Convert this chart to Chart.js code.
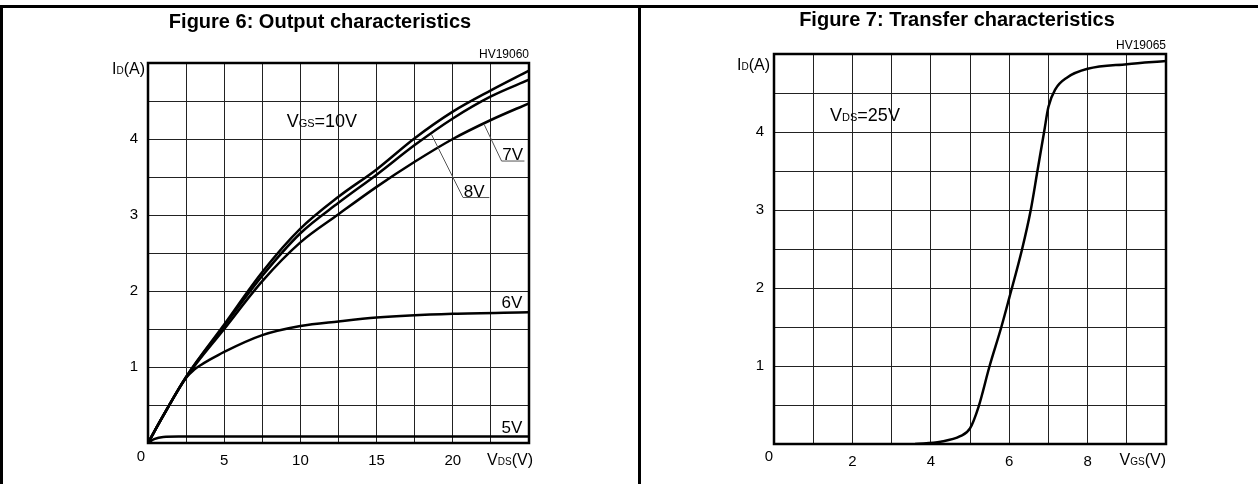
<!DOCTYPE html>
<html>
<head>
<meta charset="utf-8">
<script src="https://cdn.jsdelivr.net/npm/chart.js@4"></script>
<style>
body { margin: 0; background: #fff; width: 1258px; height: 484px; overflow: hidden; position: relative; }
canvas { position: absolute; top: 0; }
#outChart { left: 0; }
#trChart { left: 640px; }
.rule { position: absolute; background: #000; }
</style>
</head>
<body>
<div class="rule" style="left:0;top:5px;width:1258px;height:3px"></div>
<div class="rule" style="left:0;top:5px;width:3px;height:479px"></div>
<div class="rule" style="left:638px;top:5px;width:3px;height:479px"></div>
<canvas id="outChart" width="640" height="484" style="width:640px;height:484px"></canvas>
<canvas id="trChart" width="618" height="484" style="width:618px;height:484px"></canvas>
<script>
// Figure 6 - output characteristics (VDS in V, ID in A)
const vdsOut = [0, 1, 2.5, 5, 7.5, 10, 12.5, 15, 17.5, 20, 22.5, 25]
const id10V = [0, 0.36, 0.87, 1.56, 2.25, 2.82, 3.24, 3.60, 4.01, 4.36, 4.64, 4.90]
const id8V = [0, 0.36, 0.87, 1.54, 2.20, 2.76, 3.16, 3.53, 3.92, 4.27, 4.56, 4.78]
const id7V = [0, 0.36, 0.86, 1.50, 2.13, 2.64, 3.01, 3.37, 3.70, 4.00, 4.25, 4.47]
const vds6V = [0, 1, 2.5, 3, 3.5, 4, 5, 7.5, 10, 12.5, 15, 20, 25]
const id6V = [0, 0.36, 0.86, 0.96, 1.03, 1.09, 1.20, 1.42, 1.54, 1.60, 1.65, 1.70, 1.72]
const vds5V = [0, 0.4, 1, 2, 25]
const id5V = [0, 0.05, 0.08, 0.085, 0.085]

// Figure 7 - transfer characteristics (VGS in V, ID in A)
const vgsTr = [3.6, 4.25, 4.75, 5.0, 5.22, 5.5, 5.8, 6.0, 6.33, 6.55, 6.72, 6.89, 7.0, 7.18, 7.48, 8.0, 9.0, 10.0]
const idTr = [0, 0.03, 0.1, 0.2, 0.48, 1.0, 1.5, 1.87, 2.5, 3.0, 3.5, 4.0, 4.32, 4.55, 4.70, 4.81, 4.87, 4.91]

// tick labels that are printed
const outXTicks = [5, 10, 15, 20]
const trXTicks = [2, 4, 6, 8]
const yTicks = [1, 2, 3, 4]

const FONT = '"Liberation Sans", Arial, sans-serif'

function pts(xs, ys) {
    return xs.map((x, i) => ({ x: x, y: ys[i] }))
}

function curve(xs, ys) {
    return {
        data: pts(xs, ys),
        borderColor: '#000',
        borderWidth: 2.5,
        pointRadius: 0,
        fill: false,
        cubicInterpolationMode: 'monotone'
    }
}

// text made of [string, size] pieces on one baseline
function label(ctx, x, y, parts, align) {
    let w = 0
    parts.forEach(p => { ctx.font = p[1] + 'px ' + FONT; w += ctx.measureText(p[0]).width })
    let cx = align === 'right' ? x - w : (align === 'center' ? x - w / 2 : x)
    ctx.textAlign = 'left'
    ctx.textBaseline = 'alphabetic'
    ctx.fillStyle = '#000'
    parts.forEach(p => {
        ctx.font = p[1] + 'px ' + FONT
        ctx.fillText(p[0], cx, y)
        cx += ctx.measureText(p[0]).width
    })
}

function line(ctx, x1, y1, x2, y2, w, c) {
    ctx.beginPath()
    ctx.lineWidth = w
    ctx.strokeStyle = c
    ctx.moveTo(x1, y1)
    ctx.lineTo(x2, y2)
    ctx.stroke()
}

function scales(xMax, xStep, xLabels, yW, xH) {
    return {
        x: {
            type: 'linear', min: 0, max: xMax,
            afterFit: s => { s.height = xH },
            grid: { color: '#222', lineWidth: 1, drawTicks: false, tickLength: 0 },
            border: { display: false },
            ticks: {
                stepSize: xStep, autoSkip: false, maxRotation: 0, padding: 9, color: '#000',
                font: { family: FONT, size: 15 },
                callback: v => xLabels.includes(v) ? String(v) : ''
            }
        },
        y: {
            type: 'linear', min: 0, max: 5,
            afterFit: s => { s.width = yW },
            grid: { color: '#222', lineWidth: 1, drawTicks: false, tickLength: 0 },
            border: { display: false },
            ticks: {
                stepSize: 0.5, autoSkip: false, padding: 10, color: '#000',
                font: { family: FONT, size: 15 },
                callback: v => yTicks.includes(v) ? String(v) : ''
            }
        }
    }
}

const outNotes = {
    id: 'outNotes',
    afterDraw(chart) {
        const ctx = chart.ctx, a = chart.chartArea
        const x = chart.scales.x, y = chart.scales.y
        ctx.save()
        ctx.lineWidth = 2.5
        ctx.strokeStyle = '#000'
        ctx.strokeRect(a.left, a.top, a.right - a.left, a.bottom - a.top)

        ctx.font = 'bold 20px ' + FONT
        ctx.textAlign = 'center'
        ctx.textBaseline = 'middle'
        ctx.fillStyle = '#000'
        ctx.fillText('Figure 6: Output characteristics', 320, 22)

        label(ctx, a.right, a.top - 5, [['HV19060', 12]], 'right')
        label(ctx, a.left - 3, a.top + 11, [['I', 16], ['D', 10], ['(A)', 16]], 'right')
        label(ctx, x.getPixelForValue(0) - 7, y.getPixelForValue(0) + 18, [['0', 15]], 'center')
        label(ctx, a.right + 4, a.bottom + 22, [['V', 16], ['DS', 10], ['(V)', 16]], 'right')

        label(ctx, x.getPixelForValue(9.1), y.getPixelForValue(4.25) + 7, [['V', 18], ['GS', 11], ['=10V', 18]])

        // 7V with leader to its curve
        label(ctx, x.getPixelForValue(23.25), y.getPixelForValue(3.71) - 1, [['7V', 17]])
        line(ctx, x.getPixelForValue(23.2), y.getPixelForValue(3.71), x.getPixelForValue(24.7), y.getPixelForValue(3.71), 1, '#555')
        line(ctx, x.getPixelForValue(22.06), y.getPixelForValue(4.19), x.getPixelForValue(23.2), y.getPixelForValue(3.71), 1, '#555')
        // 8V with leader
        label(ctx, x.getPixelForValue(20.72), y.getPixelForValue(3.23) - 1, [['8V', 17]])
        line(ctx, x.getPixelForValue(20.67), y.getPixelForValue(3.23), x.getPixelForValue(22.4), y.getPixelForValue(3.23), 1, '#555')
        line(ctx, x.getPixelForValue(18.6), y.getPixelForValue(4.06), x.getPixelForValue(20.67), y.getPixelForValue(3.23), 1, '#555')

        label(ctx, x.getPixelForValue(23.2), y.getPixelForValue(1.86) + 6, [['6V', 17]])
        label(ctx, x.getPixelForValue(23.2), y.getPixelForValue(0.21) + 6, [['5V', 17]])
        ctx.restore()
    }
}

const trNotes = {
    id: 'trNotes',
    afterDraw(chart) {
        const ctx = chart.ctx, a = chart.chartArea
        const x = chart.scales.x, y = chart.scales.y
        ctx.save()
        ctx.lineWidth = 2.5
        ctx.strokeStyle = '#000'
        ctx.strokeRect(a.left, a.top, a.right - a.left, a.bottom - a.top)

        ctx.font = 'bold 20px ' + FONT
        ctx.textAlign = 'center'
        ctx.textBaseline = 'middle'
        ctx.fillStyle = '#000'
        ctx.fillText('Figure 7: Transfer characteristics', 317, 20)

        label(ctx, a.right, a.top - 5, [['HV19065', 12]], 'right')
        label(ctx, a.left - 4, a.top + 16, [['I', 16], ['D', 10], ['(A)', 16]], 'right')
        label(ctx, x.getPixelForValue(0) - 5, y.getPixelForValue(0) + 17, [['0', 15]], 'center')
        label(ctx, a.right, a.bottom + 21, [['V', 16], ['GS', 10], ['(V)', 16]], 'right')

        label(ctx, x.getPixelForValue(1.43), y.getPixelForValue(4.23) + 7, [['V', 18], ['DS', 11], ['=25V', 18]])
        ctx.restore()
    }
}

new Chart(document.getElementById('outChart'), {
    type: 'line',
    data: {
        datasets: [
            curve(vdsOut, id10V),
            curve(vdsOut, id8V),
            curve(vdsOut, id7V),
            curve(vds6V, id6V),
            curve(vds5V, id5V)
        ]
    },
    options: {
        responsive: false,
        animation: false,
        devicePixelRatio: 1,
        parsing: false,
        layout: { padding: { left: 0, top: 63, right: 111, bottom: 0 } },
        plugins: { legend: { display: false }, tooltip: { enabled: false } },
        scales: scales(25, 2.5, outXTicks, 148, 41)
    },
    plugins: [outNotes]
})

new Chart(document.getElementById('trChart'), {
    type: 'line',
    data: {
        datasets: [curve(vgsTr, idTr)]
    },
    options: {
        responsive: false,
        animation: false,
        devicePixelRatio: 1,
        parsing: false,
        layout: { padding: { left: 0, top: 54, right: 92, bottom: 0 } },
        plugins: { legend: { display: false }, tooltip: { enabled: false } },
        scales: scales(10, 1, trXTicks, 134, 40)
    },
    plugins: [trNotes]
})
</script>
</body>
</html>
